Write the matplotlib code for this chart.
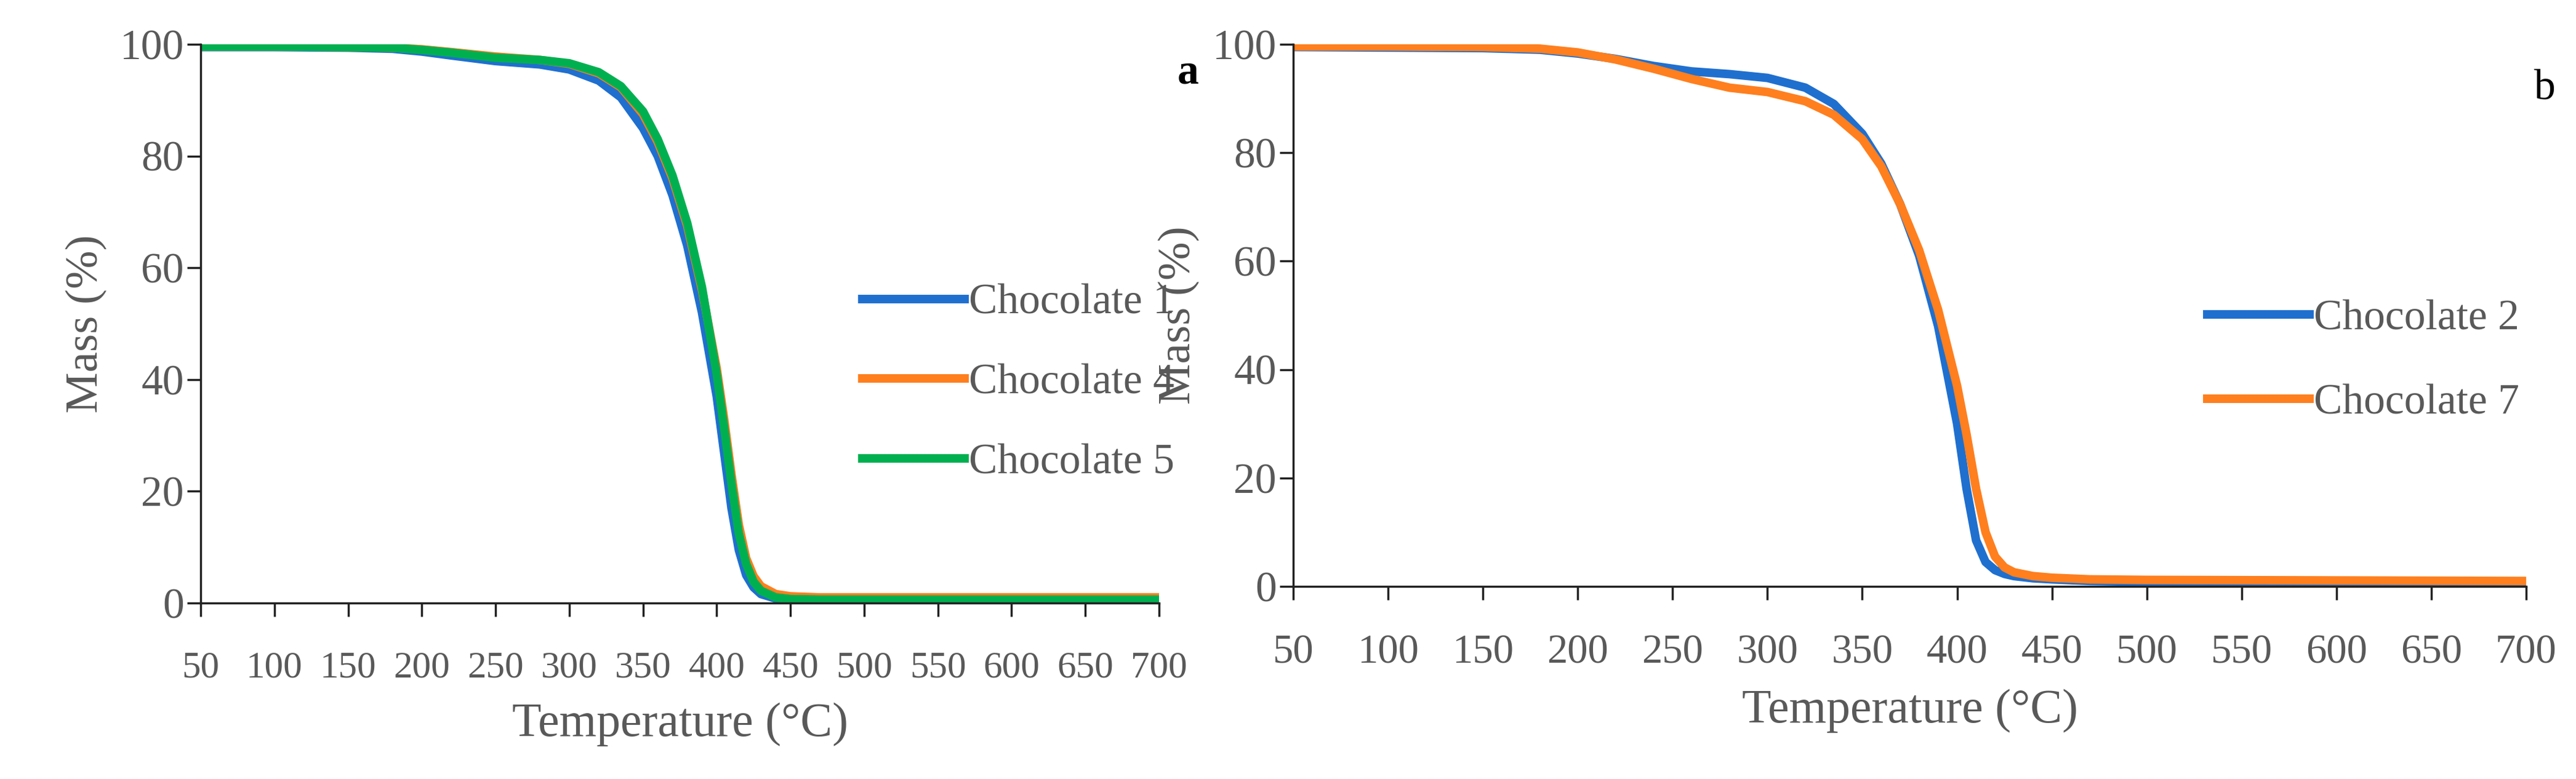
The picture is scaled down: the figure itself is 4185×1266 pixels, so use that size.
import matplotlib
matplotlib.use("Agg")
import matplotlib.pyplot as plt
import numpy as np

# Panel a
temp_a = [50, 100, 150, 180, 200, 220, 250, 280, 300, 320, 335, 350, 360, 370, 380, 390, 400, 405, 410, 415, 420, 425, 430, 440, 450, 470, 500, 600, 700]
choc1 = [99.5, 99.5, 99.4, 99.2, 98.7, 98.0, 97.0, 96.4, 95.5, 93.5, 90.5, 85.0, 80.0, 73.0, 64.0, 52.0, 37.0, 27.0, 17.0, 9.5, 5.0, 2.8, 1.6, 0.8, 0.5, 0.4, 0.4, 0.4, 0.4]
choc4 = [99.6, 99.6, 99.5, 99.4, 99.1, 98.6, 97.8, 97.2, 96.5, 94.8, 92.3, 87.5, 82.5, 76.0, 67.5, 56.0, 42.0, 33.0, 23.0, 14.0, 8.0, 4.8, 3.0, 1.6, 1.2, 1.0, 1.0, 1.0, 1.0]
choc5 = [99.6, 99.6, 99.5, 99.4, 99.0, 98.5, 97.6, 97.2, 96.6, 95.0, 92.5, 88.0, 83.0, 76.5, 68.0, 56.5, 41.0, 31.5, 21.5, 12.5, 7.0, 3.8, 2.2, 1.0, 0.7, 0.6, 0.6, 0.6, 0.6]

# Panel b
temp_b = [50, 100, 150, 180, 200, 220, 240, 260, 280, 300, 320, 335, 350, 360, 370, 380, 390, 400, 405, 410, 415, 420, 425, 430, 440, 450, 470, 500, 600, 700]
choc2 = [99.5, 99.4, 99.3, 99.0, 98.3, 97.3, 96.0, 95.0, 94.5, 93.8, 92.0, 89.0, 83.5, 78.0, 70.5, 61.0, 48.0, 30.0, 18.0, 8.5, 4.5, 3.0, 2.3, 1.9, 1.5, 1.3, 1.0, 0.8, 0.6, 0.5]
choc7 = [99.6, 99.6, 99.5, 99.2, 98.5, 97.2, 95.5, 93.6, 92.0, 91.2, 89.5, 87.0, 82.5, 77.5, 70.5, 62.0, 51.0, 37.0, 28.0, 18.0, 10.0, 5.5, 3.5, 2.6, 1.9, 1.6, 1.3, 1.2, 1.1, 1.0]

x_ticks = list(range(50, 701, 50))
y_ticks = [0, 20, 40, 60, 80, 100]

BLUE = "#1f6fcf"
ORANGE = "#ff7f1e"
GREEN = "#00b050"
GRAY = "#595959"

plt.rcParams["font.family"] = ["Liberation Serif", "DejaVu Serif"]

fig = plt.figure(figsize=(41.85, 12.66), dpi=100)
ax1 = fig.add_axes([326/4185, 1 - 980/1266, (1883-326)/4185, (980-72)/1266])
ax2 = fig.add_axes([2101/4185, 1 - 953/1266, (4104-2101)/4185, (953-72)/1266])

def style(ax, xsize):
    ax.set_xlim(50, 700)
    ax.set_ylim(0, 100)
    ax.set_xticks(x_ticks)
    ax.set_yticks(y_ticks)
    for s in ["top", "right"]:
        ax.spines[s].set_visible(False)
    for s in ["left", "bottom"]:
        ax.spines[s].set_linewidth(2.5)
        ax.spines[s].set_color("#222222")
    ax.tick_params(axis="both", direction="out", length=16, width=2.5, color="#222222",
                   labelsize=50, labelcolor=GRAY)
    ax.tick_params(axis="x", pad=40, labelsize=xsize)
    ax.set_xlabel("Temperature (°C)", fontsize=56, color=GRAY, labelpad=20)
    ax.set_ylabel("Mass (%)", fontsize=54, color=GRAY, labelpad=15)

lw = 10
ax1.plot(temp_a, choc1, color=BLUE, lw=lw, label="Chocolate 1")
ax1.plot(temp_a, choc4, color=ORANGE, lw=lw, label="Chocolate 4")
ax1.plot(temp_a, choc5, color=GREEN, lw=lw, label="Chocolate 5")
style(ax1, 44)
ax1.legend(loc="upper left", bbox_to_anchor=(0.65, 0.64), frameon=False, fontsize=50,
           handlelength=2.4, handletextpad=0.1, labelspacing=0.95, labelcolor=GRAY)
ax1.text(1.03, 0.93, "a", transform=ax1.transAxes, fontsize=50, fontweight="bold", ha="center")

ax2.plot(temp_b, choc2, color=BLUE, lw=lw, label="Chocolate 2")
ax2.plot(temp_b, choc7, color=ORANGE, lw=lw, label="Chocolate 7")
style(ax2, 48)
ax2.legend(loc="upper left", bbox_to_anchor=(0.71, 0.6), frameon=False, fontsize=50,
           handlelength=2.4, handletextpad=0.1, labelspacing=1.05, labelcolor=GRAY)
ax2.text(1.015, 0.9, "b", transform=ax2.transAxes, fontsize=50, ha="center")

fig.savefig("out.png", dpi=100)
